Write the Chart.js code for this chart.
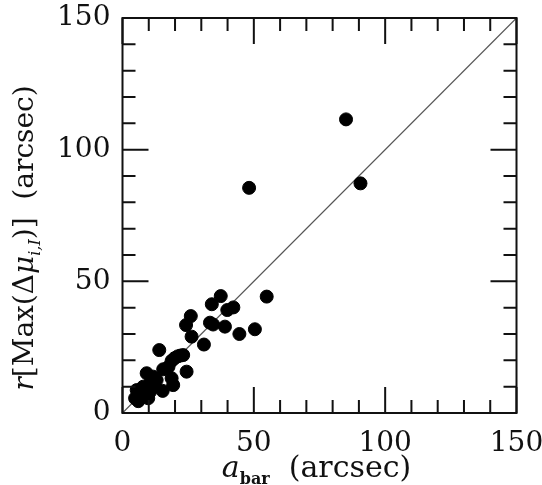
<!DOCTYPE html>
<html>
<head>
<meta charset="utf-8">
<script src="https://cdn.jsdelivr.net/npm/chart.js@4"></script>
<style>
  html, body { margin: 0; padding: 0; background: #fff; }
  #wrap { width: 542px; height: 485px; }
</style>
</head>
<body>
<div id="wrap"><canvas id="c" width="542" height="485"></canvas></div>
<script>
// bar length vs radius of max colour gradient (arcsec)
const barLength = [85.1, 90.6, 48.2, 54.9, 37.4, 34.0, 42.2, 39.9, 26.0, 24.2, 33.3, 34.5, 39.0, 50.4,
                   44.5, 26.3, 31.0, 14.0, 23.1, 21.0, 18.7, 19.8, 24.4, 15.5, 18.7, 19.3, 9.2, 11.7,
                   13.0, 10.5, 15.3, 7.9, 5.4, 6.7, 9.8, 4.8, 10.5, 6.0, 8.0, 12.0, 17.5, 22.0];
const maxGradRadius = [111.5, 87.2, 85.5, 44.2, 44.4, 41.3, 40.1, 39.1, 36.8, 33.4, 34.3, 33.6, 32.8, 31.8,
                   30.0, 29.0, 26.0, 23.9, 22.0, 21.5, 19.8, 20.8, 15.7, 16.6, 13.2, 10.6, 15.1, 13.8,
                   12.5, 11.3, 8.4, 10.0, 8.7, 6.8, 5.6, 5.6, 8.1, 4.5, 8.0, 10.0, 17.5, 21.8];
const oneToOne = [0, 150];
const axisMin = 0, axisMax = 150, minorStep = 10, majorStep = 50;

const FONT = "'DejaVu Serif', serif";
const INK = '#111';

const points = barLength.map((x, i) => ({ x: x, y: maxGradRadius[i] }));
const diag = oneToOne.map(v => ({ x: v, y: v }));

// inward ticks on all four sides + frame
const frameTicks = {
    id: 'frameTicks',
    afterDatasetsDraw(chart) {
        const { ctx, chartArea: a, scales } = chart;
        ctx.save();
        ctx.strokeStyle = INK;
        ctx.lineWidth = 2;
        scales.x.ticks.forEach(t => {
            const px = scales.x.getPixelForValue(t.value);
            const len = t.value % majorStep === 0 ? 26 : 13;
            ctx.beginPath();
            ctx.moveTo(px, a.bottom); ctx.lineTo(px, a.bottom - len);
            ctx.moveTo(px, a.top); ctx.lineTo(px, a.top + len);
            ctx.stroke();
        });
        scales.y.ticks.forEach(t => {
            const py = scales.y.getPixelForValue(t.value);
            const len = t.value % majorStep === 0 ? 26 : 13;
            ctx.beginPath();
            ctx.moveTo(a.left, py); ctx.lineTo(a.left + len, py);
            ctx.moveTo(a.right, py); ctx.lineTo(a.right - len, py);
            ctx.stroke();
        });
        ctx.strokeRect(a.left, a.top, a.right - a.left, a.bottom - a.top);
        ctx.restore();
    }
};

// draw a run of [text, font, dy] pieces
function drawRuns(ctx, runs, x, y) {
    let cx = x;
    runs.forEach(r => {
        ctx.font = r[1];
        ctx.fillText(r[0], cx, y + (r[2] || 0));
        cx += ctx.measureText(r[0]).width;
    });
}
function runsWidth(ctx, runs) {
    let w = 0;
    runs.forEach(r => { ctx.font = r[1]; w += ctx.measureText(r[0]).width; });
    return w;
}

const axisTitles = {
    id: 'axisTitles',
    afterDraw(chart) {
        const { ctx, chartArea: a } = chart;
        ctx.save();
        ctx.fillStyle = INK;
        ctx.textBaseline = 'alphabetic';
        ctx.textAlign = 'left';
        const big = '28px ' + FONT, it = 'italic 28px ' + FONT, sub = 'bold 17px ' + FONT, subIt = 'italic 16px ' + FONT;

        const xRuns = [['a', 'italic 30px ' + FONT], ['bar', 'bold 16px ' + FONT, 7], ['  (arcsec)', '30px ' + FONT]];
        const xw = runsWidth(ctx, xRuns);
        drawRuns(ctx, xRuns, (a.left + a.right) / 2 - 3 - xw / 2, 477);

        const yRuns = [['r', it], ['[Max(\u0394', big], ['\u03bc', it], ['i,I', subIt, 7], [')]  (arcsec)', big]];
        const yw = runsWidth(ctx, yRuns);
        ctx.translate(33, 238);
        ctx.rotate(-Math.PI / 2);
        drawRuns(ctx, yRuns, -yw / 2, 0);
        ctx.restore();
    }
};

new Chart(document.getElementById('c'), {
    type: 'scatter',
    data: {
        datasets: [{
            label: 'galaxies',
            data: points,
            backgroundColor: '#000',
            borderColor: '#000',
            pointRadius: 6.5,
            pointHoverRadius: 6.5
        }, {
            label: 'one-to-one',
            data: diag,
            showLine: true,
            borderColor: '#555',
            borderWidth: 1.2,
            pointRadius: 0
        }]
    },
    options: {
        responsive: false,
        animation: false,
        events: [],
        layout: { padding: { top: 18, right: 25.5, left: 0, bottom: 0 } },
        plugins: { legend: { display: false }, tooltip: { enabled: false } },
        scales: {
            x: {
                type: 'linear', min: axisMin, max: axisMax,
                grid: { display: false, drawTicks: false },
                border: { display: false },
                ticks: {
                    stepSize: minorStep, autoSkip: false, maxRotation: 0, padding: 14,
                    color: INK, font: { family: FONT, size: 28 },
                    callback: v => v % majorStep === 0 ? String(v) : ''
                },
                afterFit: s => { s.height = 72; s.paddingLeft = 0; s.paddingRight = 0; }
            },
            y: {
                type: 'linear', min: axisMin, max: axisMax,
                grid: { display: false, drawTicks: false },
                border: { display: false },
                ticks: {
                    stepSize: minorStep, autoSkip: false, padding: 12,
                    color: INK, font: { family: FONT, size: 28 },
                    callback: v => v % majorStep === 0 ? String(v) : ''
                },
                afterFit: s => { s.width = 122.5; s.paddingTop = 0; s.paddingBottom = 0; }
            }
        }
    },
    plugins: [frameTicks, axisTitles]
});
</script>
</body>
</html>
